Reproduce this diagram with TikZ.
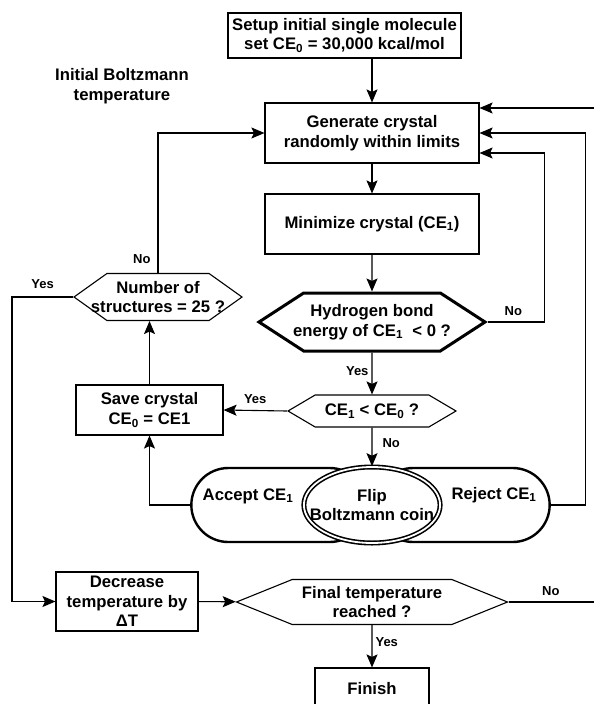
\documentclass[tikz,border=0pt]{standalone}
\usepackage{fontspec}
\setmainfont{Liberation Sans}
\usetikzlibrary{shapes.geometric, shapes.symbols, shapes.misc, arrows.meta, positioning}

\begin{document}
\begin{tikzpicture}[
  x=1pt, y=-1pt,
  >={Stealth[length=13pt, width=11pt, inset=2.5pt]},
  font=\bfseries\fontsize{16.7}{19.5}\selectfont,
  box/.style={draw, line width=1.1pt, align=center, inner sep=1pt},
  hexa/.style={draw, line width=1.1pt, signal, signal to=west and east, align=center, inner sep=1pt},
  oval/.style={draw, rounded rectangle, line width=2.4pt, minimum height=74pt},
  coin/.style={draw, ellipse, line width=1.6pt, double, double distance=1.8pt, fill=white, align=center, inner xsep=-14pt, inner ysep=0pt},
  lbl/.style={font=\bfseries\fontsize{13}{15}\selectfont, inner sep=0pt},
  arr/.style={->, line width=1.1pt}
]
  \useasboundingbox (0,0) rectangle (594,704);

  \node[box, minimum width=233pt, minimum height=45pt] (setup) at (344.5,35.5) {Setup initial single molecule\\set CE\textsubscript{0} = 30,000 kcal/mol};
  \node[align=center] (inittemp) at (122,86) {Initial Boltzmann\\temperature};
  \node[box, minimum width=214pt, minimum height=60pt] (gen) at (372,133) {Generate crystal\\randomly within limits};
  \node[box, minimum width=214pt, minimum height=60pt] (mini) at (372,224) {Minimize crystal (CE\textsubscript{1})};
  \node[hexa, line width=3pt, inner xsep=-12pt, minimum width=226pt, minimum height=58pt, signal pointer angle=66] (hbond) at (372,322) {Hydrogen bond\\energy of CE\textsubscript{1}~ < 0 ?};
  \node[hexa, inner xsep=-20pt, minimum width=168pt, minimum height=47pt, signal pointer angle=71] (numq) at (158,297) {Number of\\structures = 25 ?};
  \node[box, minimum width=147pt, minimum height=50pt] (save) at (149.5,410) {Save crystal\\CE\textsubscript{0} = CE1};
  \node[hexa, minimum width=168pt, minimum height=32pt, signal pointer angle=61] (ceq) at (372,411) {CE\textsubscript{1} < CE\textsubscript{0} ?};
  \node[oval, minimum width=182pt] (accept) at (279,505) {};
  \node[oval, minimum width=180pt] (reject) at (463,505) {};
  \node[coin, minimum width=136pt, minimum height=76pt] (flip) at (372,505) {Flip\\Boltzmann coin};
  \node[inner sep=0pt] (accepttxt) at (248,496) {Accept CE\textsubscript{1}};
  \node[inner sep=0pt] (rejecttxt) at (494,495) {Reject CE\textsubscript{1}};
  \node[box, minimum width=142pt, minimum height=59pt] (decr) at (127,601.5) {Decrease\\temperature by\\ΔT};
  \node[hexa, minimum width=271pt, minimum height=45pt, signal pointer angle=44] (finq) at (372,602) {Final temperature\\reached ?};
  \node[box, minimum width=114pt, minimum height=42pt] (finish) at (372,689) {Finish};

  \coordinate (ledge) at (12,0);
  \coordinate (redge) at (600,0);

  \draw[arr] (gen.north |- setup.south) -- (gen.north);
  \draw[arr] (gen) -- (mini);
  \draw[arr] (mini) -- (hbond);
  \draw[arr] (hbond) -- (ceq) node[lbl, pos=0.45, left=3pt] {Yes};
  \draw[arr] (ceq) -- (flip) node[lbl, pos=0.4, right=10pt] {No};
  \draw[arr] (ceq.west) -- (save.east) node[lbl, pos=0.5, above=6pt] {Yes};
  \draw[arr] (accept.west) -| (save.south);
  \draw[arr] (save.north) -- (save.north |- numq.south);
  \draw[arr] (numq.north) |- (gen.west) node[lbl, pos=0.05, left=7pt] {No};
  \draw[arr] (numq.west) -- (numq.west -| ledge) node[lbl, pos=0.5, above=8pt] {Yes} |- (decr.west);
  \draw[arr] (decr) -- (finq);
  \draw[arr] (finq.east) -- (finq.east -| redge) node[lbl, pos=0.46, above=6pt] {No} |- ([yshift=25pt]gen.east);
  \draw[arr] (reject.east) -- ++(35,0) |- (gen.east);
  \draw[arr] (hbond.east) -- ++(57,0) node[lbl, pos=0.45, above=6pt] {No} |- ([yshift=-20pt]gen.east);
  \draw[arr] (finq) -- (finish) node[lbl, pos=0.4, right=3pt] {Yes};
\end{tikzpicture}
\end{document}
